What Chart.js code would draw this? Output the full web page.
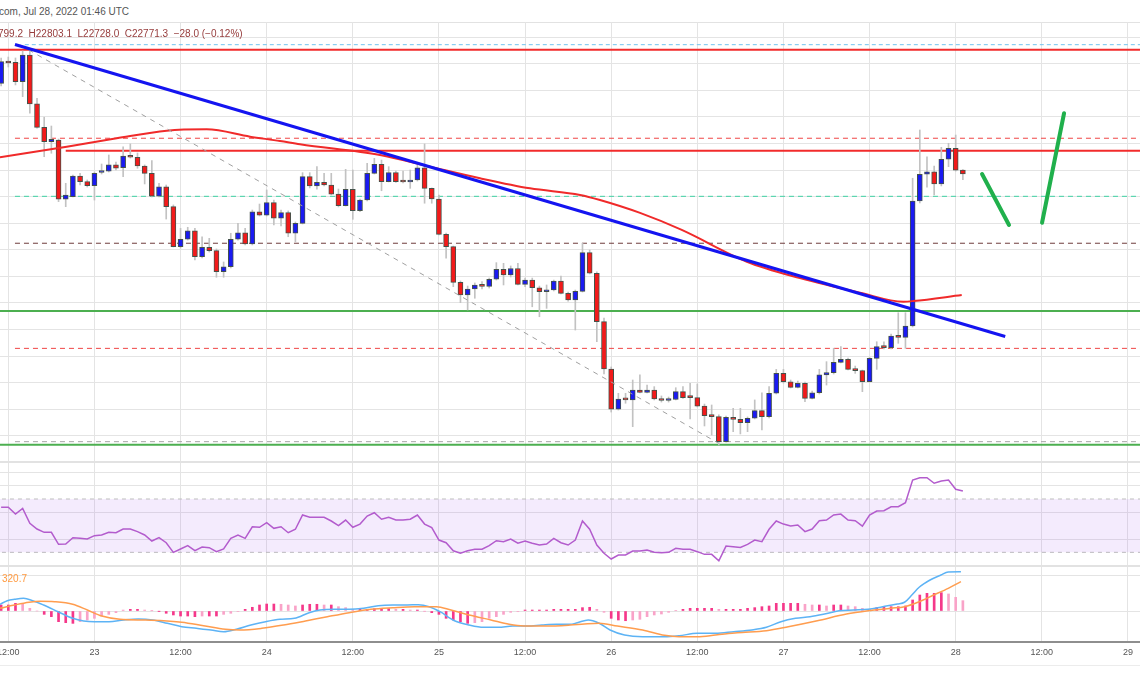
<!DOCTYPE html>
<html>
<head>
<meta charset="utf-8">
<script src="https://cdn.jsdelivr.net/npm/chart.js@4.4.0/dist/chart.umd.min.js"></script>
<style>
html,body{margin:0;padding:0;background:#fff;width:1140px;height:694px;overflow:hidden;font-family:"Liberation Sans",Arial,sans-serif}
canvas{position:absolute;left:0}
.txt{position:absolute;white-space:nowrap;z-index:3}
.line{position:absolute;left:0;width:1140px;background:#e2e2e2}
</style>
</head>
<body>
<div class="txt" style="left:-1px;top:6px;font-size:10px;color:#555">com, Jul 28, 2022 01:46 UTC</div>
<div class="line" style="top:22px;height:1px"></div>
<div class="txt" style="left:-2px;top:28px;font-size:10px;color:#963c3c">799.2&nbsp; H22803.1&nbsp; L22728.0&nbsp; C22771.3&nbsp; −28.0 (−0.12%)</div>
<canvas id="price" width="1140" height="440" style="top:22px"></canvas>
<div class="line" style="top:461px;height:2px"></div>
<canvas id="rsi" width="1140" height="102" style="top:463px"></canvas>
<div class="line" style="top:565px;height:2px"></div>
<div class="txt" style="left:2px;top:573px;font-size:10px;color:#ff9a40">320.7</div>
<canvas id="macd" width="1140" height="99" style="top:567px"></canvas>
<div class="line" style="top:665px;height:1px;background:#ececec"></div>
<script>
// hourly candles, first one = 22 Jul 11:00 (hour -1 from 22 Jul 12:00)
const startHour = -1;
const tickHours = [0,12,24,36,48,60,72,84,96,108,120,132,144,156];
const tickLabels = ['12:00','23','12:00','24','12:00','25','12:00','26','12:00','27','12:00','28','12:00','29'];
const priceTicks = [20800,21000,21200,21400,21600,21800,22000,22200,22400,22600,22800,23000,23200,23400,23600,23800];

const opens = [23452,23613,23610,23464,23665,23297,23121,23013,23026,22580,
  22599,22755,22712,22682,22781,22792,22838,22817,22905,22896,
  22830,22775,22604,22674,22524,22223,22279,22343,22148,22218,
  22193,22035,22072,22279,22328,22243,22486,22461,22554,22437,
  22479,22324,22399,22750,22680,22708,22687,22619,22531,22655,
  22494,22574,22775,22843,22712,22780,22712,22710,22725,22817,
  22662,22582,22316,22223,21955,21860,21905,21935,21924,21978,
  22053,22010,22059,21940,21972,21914,21884,21897,21965,21872,
  21822,21887,22178,22023,21659,21303,21000,21077,21070,21145,
  21127,21145,21077,21066,21073,21132,21092,21087,21024,20951,
  20945,20756,20939,20924,20899,20932,20989,20944,21120,21270,
  21207,21165,21195,21082,21124,21258,21275,21353,21376,21300,
  21290,21207,21383,21471,21463,21551,21541,21626,22567,22768,
  22787,22695,22881,22963,22799.2];
const highs = [23643,23650,23643,23695,23703,23340,23197,23131,23033,22700,
  22762,22775,22725,22785,22845,22913,22860,22975,22996,22928,
  22838,22870,22700,22687,22537,22361,22369,22361,22298,22286,
  22206,22108,22324,22399,22361,22499,22544,22650,22574,22499,
  22492,22409,22780,22780,22825,22775,22775,22657,22805,22800,
  22582,22850,22888,22875,22825,22792,22792,22800,22838,22996,
  22665,22612,22326,22228,21965,21927,21950,21960,21987,22103,
  22098,22078,22098,21987,21987,21927,21935,21972,22002,21882,
  21897,22249,22198,22033,21686,21318,21120,21120,21220,21258,
  21182,21170,21100,21092,21162,21170,21195,21190,21039,21032,
  20957,20949,21007,21007,20942,21070,21124,21170,21300,21300,
  21220,21212,21205,21137,21300,21358,21459,21471,21385,21325,
  21295,21391,21508,21508,21566,21726,21726,22738,23101,22900,
  22830,22971,23001,23063,22803.1];
const lows = [23432,23575,23440,23352,23227,23114,22900,22926,22562,22524,
  22597,22687,22672,22574,22770,22785,22800,22750,22890,22813,
  22695,22597,22597,22431,22221,22213,22273,22123,22138,22183,
  21993,21993,22063,22273,22236,22236,22454,22454,22386,22379,
  22298,22261,22394,22665,22655,22680,22612,22522,22529,22429,
  22486,22567,22770,22644,22710,22706,22702,22662,22717,22550,
  22550,22311,22136,21922,21802,21747,21835,21905,21912,21972,
  21935,21995,21935,21922,21771,21696,21759,21890,21867,21814,
  21596,21882,22018,21508,21265,20979,20994,21045,20869,21122,
  21122,21070,21054,21054,21070,21081,20927,21017,20874,20806,
  20731,20753,20831,20814,20831,20927,20844,20934,21115,21197,
  21160,21160,21057,21077,21115,21182,21265,21348,21295,21270,
  21132,21205,21300,21453,21453,21496,21458,21619,22552,22670,
  22612,22680,22825,22792,22728.0];
const closes = [23615,23605,23464,23665,23297,23121,23013,23031,22580,22612,
  22755,22712,22682,22775,22789,22838,22813,22905,22896,22830,
  22775,22604,22674,22524,22223,22279,22343,22148,22218,22193,
  22035,22072,22279,22328,22243,22486,22461,22554,22437,22479,
  22324,22399,22750,22680,22708,22687,22619,22531,22655,22494,
  22574,22775,22843,22712,22780,22712,22710,22725,22817,22662,
  22582,22316,22223,21955,21860,21905,21935,21924,21978,22053,
  22010,22059,21940,21972,21914,21884,21897,21965,21872,21822,
  21887,22178,22023,21659,21303,21000,21077,21070,21145,21127,
  21145,21077,21066,21073,21132,21087,21087,21024,20951,20945,
  20756,20939,20924,20899,20932,20989,20944,21120,21270,21207,
  21165,21195,21082,21124,21258,21275,21353,21376,21300,21290,
  21207,21383,21471,21463,21551,21541,21626,22567,22768,22787,
  22695,22881,22963,22799,22771.3];

// 100 SMA (hour, price)
const smaHours = [-1.16,8.14,15.1,22.07,27.64,33.68,37.86,40.64,51.79,58.76,65.72,72.69,79.66,82.44,88.02,93.83,102.9,110.3,118.67,124.7,126.1,132.84];
const smaPrices = [22896,22975,23039,23096,23106,23051,23018,22993,22913,22825,22738,22662,22612,22574,22477,22349,22110,21987,21877,21809,21814,21859];

// horizontal levels and the hour where each one starts
const levelPrices = [23705,23743,23039,22945,22602,22249,21739,21458,20756,20733];
const levelFrom = [-1.2,2.3,0.93,8.0,0.93,0.93,-1.2,0.93,0.93,-1.2];
const levelStyles = [
  {c:'#f22b2b',w:2,d:[]},{c:'#72c3ee',w:1,d:[4,3]},{c:'#f04545',w:1,d:[5,4]},{c:'#f22b2b',w:2,d:[]},
  {c:'#3fd2a5',w:1,d:[5,4]},{c:'#6e3c3c',w:1,d:[5,4]},{c:'#4caf50',w:2,d:[]},{c:'#f04545',w:1,d:[5,4]},
  {c:'#a6a6a6',w:1,d:[5,4]},{c:'#4caf50',w:2,d:[]}];

const trendHours = [0.93,138.9];   const trendPrices = [23744,21547];
const diagHours = [1.63,98.9];     const diagPrices = [23741,20746];
const arrowAHours = [135.67,139.43]; const arrowAPrices = [22770,22386];
const arrowBHours = [144.03,147.1];  const arrowBPrices = [22403,23227];

const rsiValues = [63.8,63.8,58.7,63.0,51.8,47.5,45.0,45.0,36.0,36.2,
  41.0,40.5,40.0,42.5,43.0,45.0,44.7,47.5,47.5,45.5,
  43.0,38.5,41.0,37.2,30.0,32.5,35.0,31.2,34.0,33.5,
  30.5,32.5,40.5,43.0,40.5,49.2,48.8,52.2,48.0,49.2,
  44.7,47.3,58.0,56.3,56.3,56.3,53.5,50.0,54.2,48.8,
  51.2,57.2,59.7,54.8,56.3,54.2,54.2,54.8,58.0,51.2,
  48.5,39.2,37.2,31.2,29.3,31.2,32.3,32.3,35.0,38.7,
  38.0,40.0,36.8,38.5,36.8,35.5,36.2,40.5,37.2,35.5,
  39.2,53.5,47.3,35.5,29.3,25.0,28.0,28.0,31.0,31.0,
  31.7,30.0,29.7,30.0,33.0,32.3,32.3,30.5,28.5,28.5,
  23.7,34.7,34.2,33.7,36.0,39.2,38.0,47.3,53.5,51.2,
  49.7,50.5,45.5,47.5,53.7,54.2,58.0,58.7,54.2,53.7,
  49.7,58.0,61.0,61.2,64.2,64.2,67.2,84.2,86.0,86.0,
  81.8,83.5,84.2,77.3,76.0];
const rsiBands = [70,30];
const rsiTicks = [40,60,80,90];

const histValues = [68,68,87,76,30,0,-38,-64,-121,-132,
  -140,-121,-102,-83,-57,-38,-19,11,19,19,
  11,2,-2,-26,-45,-57,-57,-64,-57,-57,
  -57,-38,-26,-4,19,42,68,79,79,76,
  68,57,68,76,76,68,68,49,38,19,
  19,19,26,26,26,19,19,11,11,-2,
  -19,-38,-83,-102,-121,-140,-132,-121,-83,-64,
  -38,-15,-8,11,11,11,11,19,19,19,
  19,38,42,19,-15,-83,-102,-110,-102,-94,
  -64,-45,-34,-15,4,19,30,30,30,30,
  19,19,19,19,30,38,49,57,87,87,
  87,87,76,68,68,57,68,68,57,49,
  30,19,38,49,49,49,57,125,181,200,
  200,208,193,155,117];
const macdHours = [-1.16,-0.14,0.86,2.13,3.40,4.92,6.95,8.97,10.49,12.01,14.03,16.07,18.1,20.12,22.15,24.17,26.21,28.24,30.0,31.78,33.8,35.84,37.86,39.88,41.91,43.43,45.45,47.49,49.51,51.54,53.56,55.59,57.11,58.63,60.15,62.17,64.2,66.23,68.26,70.28,72.31,74.33,76.36,78.26,79.28,80.8,82.32,83.84,85.86,88.39,91.43,93.46,96.0,98.54,101.06,103.6,105.63,107.65,109.68,111.7,113.72,115.76,117.78,119.81,121.83,123.87,124.87,125.89,126.91,128.43,129.94,130.96,132.73];
const macdValues = [76,117,133,144,117,68,-8,-83,-113,-121,-121,-102,-91,-102,-139,-178,-196,-215,-235,-207,-159,-121,-94,-83,-19,11,19,19,31,60,68,68,71,49,-8,-110,-159,-185,-185,-170,-170,-159,-151,-151,-133,-102,-139,-215,-272,-291,-291,-280,-253,-253,-235,-215,-185,-121,-83,-65,-34,3,11,19,49,79,99,181,269,351,408,442,445];
const signalHours = [-1.16,0.86,2.9,4.42,6.44,8.97,11.01,13.03,15.56,19.12,21.64,24.17,27.21,30.26,32.28,35.32,38.36,41.41,44.45,47.49,50.52,53.56,56.6,59.65,61.67,64.2,67.24,69.78,71.8,74.85,78.29,80.28,82.32,84.86,88.39,91.43,93.46,96.0,98.54,101.57,105.63,108.67,112.72,116.78,119.81,122.97,124.87,126.91,128.93,130.96,132.73];
const signalValues = [31,68,99,110,105,76,11,-57,-94,-102,-110,-128,-167,-207,-215,-196,-159,-113,-65,-19,19,37,49,49,11,-45,-102,-151,-170,-170,-159,-147,-139,-170,-215,-275,-291,-291,-272,-246,-223,-178,-110,-34,3,31,49,105,181,257,332];
const macdTicks = [0,400];

// view window (the price scale sits off to the right of the crop)
const X_MIN = -1.157, X_MAX = 157.68;
const GRID = '#e4e4e4';
const UP = '#1a1af2', DOWN = '#f21a1a';

const pts = (xs, ys) => xs.map((x, i) => ({x, y: ys[i]}));

function xAxis(showLabels) {
  return {
    type: 'linear', min: X_MIN, max: X_MAX, offset: false,
    grid: {color: GRID, drawTicks: false, offset: false},
    border: showLabels ? {display: true, color: '#8e8e8e', width: 2} : {display: false},
    afterBuildTicks: s => { s.ticks = tickHours.map(v => ({value: v})); },
    afterFit: s => { s.height = showLabels ? 24 : 0; s.paddingLeft = 0; s.paddingRight = 0; },
    ticks: showLabels ? {
      display: true, autoSkip: false, maxRotation: 0, padding: 5, color: '#555',
      font: {size: 9, family: 'Liberation Sans'},
      callback: v => tickLabels[tickHours.indexOf(v)]
    } : {display: false}
  };
}
function yAxis(min, max, ticks) {
  return {
    position: 'right', min, max,
    grid: {color: GRID, drawTicks: false},
    border: {display: false},
    ticks: {display: false},
    afterBuildTicks: s => { s.ticks = ticks.map(v => ({value: v})); },
    afterFit: s => { s.width = 0; }
  };
}
const base = {
  responsive: false, maintainAspectRatio: false, animation: false, devicePixelRatio: 1,
  layout: {padding: 0},
  plugins: {legend: {display: false}, tooltip: {enabled: false}},
  elements: {point: {radius: 0}}
};

// price pane
const candleX = closes.map((c, i) => startHour + i);
const candleColors = closes.map((c, i) => c >= opens[i] ? UP : DOWN);
const priceSets = [
  {type: 'bar', data: candleX.map((x, i) => ({x, y: [lows[i], highs[i]]})),
   backgroundColor: '#c2c2c2', barThickness: 1, grouped: false, order: 10},
  {type: 'bar', data: candleX.map((x, i) => ({x, y: [opens[i], closes[i]]})),
   backgroundColor: candleColors, borderColor: '#44524a', borderWidth: 1, borderSkipped: false,
   barThickness: 5, minBarLength: 2, grouped: false, order: 9}
];
levelPrices.forEach((p, i) => {
  const st = levelStyles[i];
  priceSets.push({type: 'line', data: pts([levelFrom[i], 160], [p, p]),
    borderColor: st.c, borderWidth: st.w, borderDash: st.d, order: 11});
});
priceSets.push({type: 'line', data: pts(smaHours, smaPrices), borderColor: '#f02a2a', borderWidth: 2,
  cubicInterpolationMode: 'monotone', order: 5});
priceSets.push({type: 'line', data: pts(diagHours, diagPrices), borderColor: '#a0a0a0', borderWidth: 1,
  borderDash: [5, 5], order: 4});
priceSets.push({type: 'line', data: pts(trendHours, trendPrices), borderColor: '#1414f0', borderWidth: 3, order: 3});
priceSets.push({type: 'line', data: pts(arrowAHours, arrowAPrices), borderColor: '#20b04c', borderWidth: 4,
  borderCapStyle: 'round', order: 2});
priceSets.push({type: 'line', data: pts(arrowBHours, arrowBPrices), borderColor: '#20b04c', borderWidth: 4,
  borderCapStyle: 'round', order: 2});

new Chart(document.getElementById('price'), {
  type: 'bar',
  data: {datasets: priceSets},
  options: Object.assign({}, base, {
    scales: {x: xAxis(false), y: yAxis(20603, 23913.6, priceTicks)}
  })
});

// RSI pane
new Chart(document.getElementById('rsi'), {
  type: 'line',
  data: {datasets: [
    {data: pts(candleX, rsiValues), borderColor: '#b35ccd', borderWidth: 1.5, order: 1},
    {data: pts([-2, 160], [rsiBands[0], rsiBands[0]]), borderColor: '#bdbdbd', borderWidth: 1,
     borderDash: [4, 4], fill: {target: {value: rsiBands[1]}}, backgroundColor: 'rgba(170,100,240,0.13)', order: 2},
    {data: pts([-2, 160], [rsiBands[1], rsiBands[1]]), borderColor: '#bdbdbd', borderWidth: 1,
     borderDash: [4, 4], order: 2}
  ]},
  options: Object.assign({}, base, {
    scales: {x: xAxis(false), y: yAxis(20.5, 97, rsiTicks)}
  })
});

// MACD pane
const histColors = histValues.map((v, i) =>
  (i === 0 || Math.abs(v) >= Math.abs(histValues[i - 1])) ? '#f5388a' : '#f9a3c8');
new Chart(document.getElementById('macd'), {
  type: 'bar',
  data: {datasets: [
    {type: 'bar', data: pts(candleX, histValues), backgroundColor: histColors, barThickness: 2, order: 3},
    {type: 'line', data: pts(macdHours, macdValues), borderColor: '#5db3f5', borderWidth: 1.5,
     cubicInterpolationMode: 'monotone', order: 2},
    {type: 'line', data: pts(signalHours, signalValues), borderColor: '#ff9d4f', borderWidth: 1.5,
     cubicInterpolationMode: 'monotone', order: 1}
  ]},
  options: Object.assign({}, base, {
    scales: {x: xAxis(true), y: yAxis(-351.2, 498.5, macdTicks)}
  })
});
</script>
</body>
</html>
